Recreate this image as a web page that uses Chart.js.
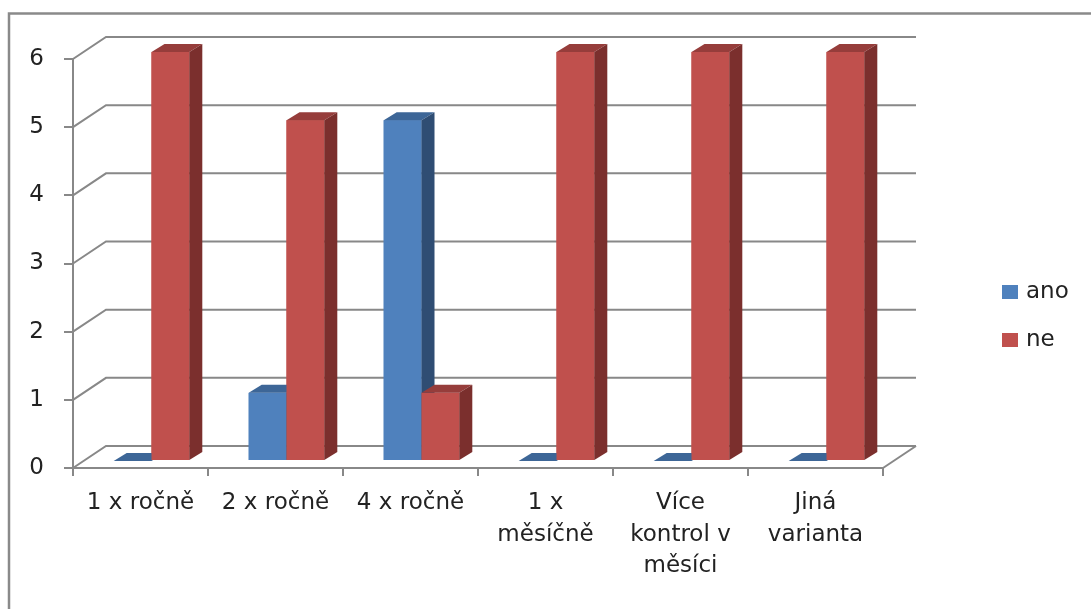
<!DOCTYPE html>
<html>
<head>
<meta charset="utf-8">
<script src="https://cdn.jsdelivr.net/npm/chart.js@4.4.0/dist/chart.umd.min.js"></script>
<style>
html, body { margin: 0; padding: 0; background: #fff; }
</style>
</head>
<body>
<canvas id="myBarChart" width="1091" height="609"></canvas>
<script>
// chart data
let categories = [
    ['1 x ročně'],
    ['2 x ročně'],
    ['4 x ročně'],
    ['1 x', 'měsíčně'],
    ['Více', 'kontrol v', 'měsíci'],
    ['Jiná', 'varianta']
];
let seriesNames = ['ano', 'ne'];
let anoValues = [0, 1, 5, 0, 0, 0];
let neValues = [6, 5, 1, 6, 6, 6];
let yTicks = [0, 1, 2, 3, 4, 5, 6];

// colours: front, top, side
let faceColors = [
    ['#4F81BD', '#3D6697', '#2F4D73'],
    ['#C0504D', '#963D3B', '#7B2F2D']
];

const FONT = '"DejaVu Sans", sans-serif';
const GRID = '#888888';
// 3d offsets
const WALL = { x: 33, y: -22 };   // back wall depth
const ROW = { x: 11, y: -7 };     // where the bars stand
const DEPTH = { x: 13, y: -8 };   // depth of one bar

function poly(ctx, pts, color) {
    ctx.beginPath();
    ctx.moveTo(pts[0][0], pts[0][1]);
    for (let i = 1; i < pts.length; i++) ctx.lineTo(pts[i][0], pts[i][1]);
    ctx.closePath();
    ctx.fillStyle = color;
    ctx.fill();
}

const bars3d = {
    id: 'bars3d',
    beforeDatasetsDraw(chart) {
        const ctx = chart.ctx;
        const area = chart.chartArea;
        const ys = chart.scales.y;
        ctx.save();
        // outer frame
        ctx.strokeStyle = '#8a8a8a';
        ctx.lineWidth = 2.5;
        ctx.beginPath();
        ctx.moveTo(9, 700);
        ctx.lineTo(9, 13.5);
        ctx.lineTo(1200, 13.5);
        ctx.stroke();
        // back wall grid + side wall slants
        ctx.strokeStyle = GRID;
        ctx.lineWidth = 2;
        yTicks.forEach(v => {
            const y = ys.getPixelForValue(v);
            ctx.beginPath();
            ctx.moveTo(area.left, y);
            ctx.lineTo(area.left + WALL.x, y + WALL.y);
            ctx.lineTo(area.right + WALL.x, y + WALL.y);
            ctx.stroke();
        });
        // floor right edge
        ctx.beginPath();
        ctx.moveTo(area.right, area.bottom);
        ctx.lineTo(area.right + WALL.x, area.bottom + WALL.y);
        ctx.stroke();
        ctx.restore();
        ctx.save();
        ctx.translate(ROW.x, ROW.y);
    },
    afterDatasetsDraw(chart) {
        const ctx = chart.ctx;
        for (let i = 0; i < categories.length; i++) {
            chart.data.datasets.forEach((ds, d) => {
                const el = chart.getDatasetMeta(d).data[i];
                const p = el.getProps(['x', 'y', 'base', 'width'], true);
                const l = p.x - p.width / 2, r = p.x + p.width / 2;
                const c = faceColors[d];
                ctx.fillStyle = c[0];
                ctx.fillRect(l, p.y, p.width, p.base - p.y);
                poly(ctx, [[l, p.y], [r, p.y], [r + DEPTH.x, p.y + DEPTH.y], [l + DEPTH.x, p.y + DEPTH.y]], c[1]);
                poly(ctx, [[r, p.y], [r + DEPTH.x, p.y + DEPTH.y], [r + DEPTH.x, p.base + DEPTH.y], [r, p.base]], c[2]);
            });
        }
        ctx.restore();
    },
    afterDraw(chart) {
        // legend
        const ctx = chart.ctx;
        ctx.save();
        ctx.font = '23px ' + FONT;
        ctx.textBaseline = 'middle';
        chart.data.datasets.forEach((ds, d) => {
            const y = 292 + d * 48;
            ctx.fillStyle = faceColors[d][0];
            ctx.fillRect(1002, y - 7, 16, 14);
            ctx.fillStyle = '#222';
            ctx.fillText(ds.label, 1026, y);
        });
        ctx.restore();
    }
};

let myChart = document.getElementById('myBarChart').getContext('2d');
let chart = new Chart(myChart, {
    type: 'bar',
    data: {
        labels: categories,
        datasets: [{
            label: seriesNames[0],
            data: anoValues,
            backgroundColor: faceColors[0][0]
        }, {
            label: seriesNames[1],
            data: neValues,
            backgroundColor: faceColors[1][0]
        }]
    },
    options: {
        responsive: false,
        animation: false,
        devicePixelRatio: 1,
        layout: { padding: { left: 0, right: 208, top: 59, bottom: 0 } },
        datasets: { bar: { categoryPercentage: 0.56, barPercentage: 1, clip: false } },
        plugins: { legend: { display: false }, tooltip: { enabled: false } },
        scales: {
            x: {
                offset: true,
                afterFit: s => { s.height = 141; },
                grid: { offset: true, drawOnChartArea: false, drawTicks: true, tickLength: 8, color: GRID, lineWidth: 2 },
                border: { color: GRID, width: 2 },
                ticks: { color: '#222', font: { family: FONT, size: 23, lineHeight: 1.38 }, padding: 11, maxRotation: 0, autoSkip: false }
            },
            y: {
                min: 0,
                max: 6,
                afterFit: s => { s.width = 73; },
                grid: { drawOnChartArea: false, drawTicks: true, tickLength: 9, color: GRID, lineWidth: 2 },
                border: { color: GRID, width: 2 },
                ticks: { stepSize: 1, color: '#222', font: { family: FONT, size: 23 }, padding: 20 }
            }
        }
    },
    plugins: [bars3d]
});
</script>
</body>
</html>
